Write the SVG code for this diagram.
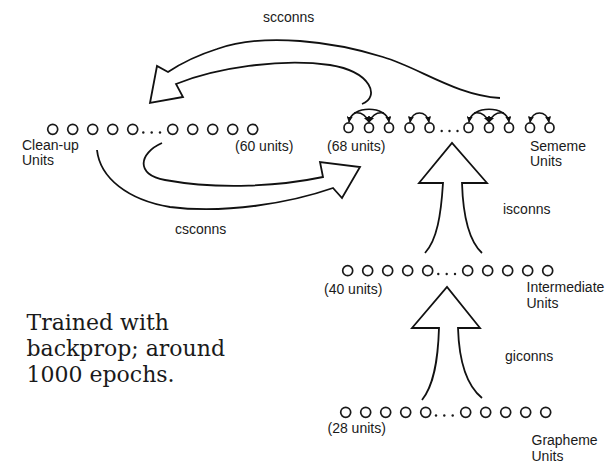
<svg xmlns="http://www.w3.org/2000/svg" width="610" height="462" viewBox="0 0 610 462">
  <defs>
    <marker id="tip" viewBox="0 0 10 10" refX="9" refY="5" markerWidth="6" markerHeight="6" markerUnits="userSpaceOnUse" orient="auto-start-reverse">
      <path d="M0,0 L10,5 L0,10 z" fill="#111"/>
    </marker>
  </defs>
  <style>
    .unit { fill: none; stroke: #1a1a1a; stroke-width: 1.7; }
    .dot { fill: #1a1a1a; }
    .lbl { font-family: "Liberation Sans", Arial, sans-serif; font-size: 14px; fill: #1a1a1a; }
    .note { font-family: "DejaVu Serif", serif; font-size: 22px; fill: #1a1a1a; }
    .big { fill: none; stroke: #111; stroke-width: 1.8; stroke-linejoin: miter; }
    .lat { fill: none; stroke: #111; stroke-width: 1.6; }
  </style>
  <rect width="610" height="462" fill="#fff"/>

  <!-- Clean-up layer -->
  <g id="cleanup">
    <g class="unit">
      <ellipse cx="52.7" cy="129.3" rx="5" ry="5"/>
      <ellipse cx="72.7" cy="129.3" rx="5" ry="5"/>
      <ellipse cx="92.7" cy="129.3" rx="5" ry="5"/>
      <ellipse cx="112.7" cy="129.3" rx="5" ry="5"/>
      <ellipse cx="132.7" cy="129.3" rx="5" ry="5"/>
      <ellipse cx="172.7" cy="129.3" rx="5" ry="5"/>
      <ellipse cx="192.7" cy="129.3" rx="5" ry="5"/>
      <ellipse cx="212.7" cy="129.3" rx="5" ry="5"/>
      <ellipse cx="232.7" cy="129.3" rx="5" ry="5"/>
      <ellipse cx="252.7" cy="129.3" rx="5" ry="5"/>
    </g>
    <g class="dot">
      <circle cx="143.3" cy="132.5" r="1.2"/>
      <circle cx="151.7" cy="132.5" r="1.2"/>
      <circle cx="160" cy="132.5" r="1.2"/>
    </g>
    <text class="lbl" x="22" y="150">Clean-up</text>
    <text class="lbl" x="22" y="165">Units</text>
    <text class="lbl" x="235" y="151">(60 units)</text>
  </g>

  <!-- Sememe layer -->
  <g id="sememe">
    <g class="unit">
      <ellipse cx="348.5" cy="127.7" rx="4.5" ry="4.8"/>
      <ellipse cx="369" cy="127.7" rx="4.5" ry="4.8"/>
      <ellipse cx="389" cy="127.7" rx="4.5" ry="4.8"/>
      <ellipse cx="409.5" cy="127.7" rx="4.5" ry="4.8"/>
      <ellipse cx="429.5" cy="127.7" rx="4.5" ry="4.8"/>
      <ellipse cx="468.5" cy="127.7" rx="4.5" ry="4.8"/>
      <ellipse cx="489" cy="127.7" rx="4.5" ry="4.8"/>
      <ellipse cx="509" cy="127.7" rx="4.5" ry="4.8"/>
      <ellipse cx="530" cy="127.7" rx="4.5" ry="4.8"/>
      <ellipse cx="549.5" cy="127.7" rx="4.5" ry="4.8"/>
    </g>
    <g class="dot">
      <circle cx="441.7" cy="131" r="1.2"/>
      <circle cx="449.5" cy="131" r="1.2"/>
      <circle cx="457.5" cy="131" r="1.2"/>
    </g>
    <!-- lateral sememe connections -->
    <g class="lat">
      <path d="M349,122 C351,105 387,105 389,122" marker-start="url(#tip)" marker-end="url(#tip)"/>
      <path d="M354,113 Q364,111 369,122" marker-end="url(#tip)"/>
      <path d="M384,113 Q374,111 369,122" marker-end="url(#tip)"/>
      <path d="M410,122 C412,110 427,110 429,122" marker-start="url(#tip)" marker-end="url(#tip)"/>
      <path d="M469,122 C471,105 507,105 509,122" marker-start="url(#tip)" marker-end="url(#tip)"/>
      <path d="M474,113 Q484,111 489,122" marker-end="url(#tip)"/>
      <path d="M504,113 Q494,111 489,122" marker-end="url(#tip)"/>
      <path d="M530,122 C532,110 547,110 549,122" marker-start="url(#tip)" marker-end="url(#tip)"/>
    </g>
    <text class="lbl" x="327" y="151">(68 units)</text>
    <text class="lbl" x="530" y="150.5">Sememe</text>
    <text class="lbl" x="530" y="166">Units</text>
  </g>

  <!-- Intermediate layer -->
  <g id="intermediate">
    <g class="unit">
      <ellipse cx="347.7" cy="270.7" rx="5" ry="5"/>
      <ellipse cx="367.7" cy="270.7" rx="5" ry="5"/>
      <ellipse cx="387.7" cy="270.7" rx="5" ry="5"/>
      <ellipse cx="407.7" cy="270.7" rx="5" ry="5"/>
      <ellipse cx="427.7" cy="270.7" rx="5" ry="5"/>
      <ellipse cx="467.7" cy="270.7" rx="5" ry="5"/>
      <ellipse cx="487.7" cy="270.7" rx="5" ry="5"/>
      <ellipse cx="507.7" cy="270.7" rx="5" ry="5"/>
      <ellipse cx="527.7" cy="270.7" rx="5" ry="5"/>
      <ellipse cx="547.7" cy="270.7" rx="5" ry="5"/>
    </g>
    <g class="dot">
      <circle cx="438.3" cy="274" r="1.2"/>
      <circle cx="446.7" cy="274" r="1.2"/>
      <circle cx="455" cy="274" r="1.2"/>
    </g>
    <text class="lbl" x="324" y="294">(40 units)</text>
    <text class="lbl" x="526.5" y="292">Intermediate</text>
    <text class="lbl" x="526.5" y="308">Units</text>
  </g>

  <!-- Grapheme layer -->
  <g id="grapheme">
    <g class="unit">
      <ellipse cx="345.7" cy="412.3" rx="5" ry="5"/>
      <ellipse cx="365.7" cy="412.3" rx="5" ry="5"/>
      <ellipse cx="385.7" cy="412.3" rx="5" ry="5"/>
      <ellipse cx="405.7" cy="412.3" rx="5" ry="5"/>
      <ellipse cx="425.7" cy="412.3" rx="5" ry="5"/>
      <ellipse cx="465.7" cy="412.3" rx="5" ry="5"/>
      <ellipse cx="485.7" cy="412.3" rx="5" ry="5"/>
      <ellipse cx="505.7" cy="412.3" rx="5" ry="5"/>
      <ellipse cx="525.7" cy="412.3" rx="5" ry="5"/>
      <ellipse cx="545.7" cy="412.3" rx="5" ry="5"/>
    </g>
    <g class="dot">
      <circle cx="436" cy="415.5" r="1.2"/>
      <circle cx="444.3" cy="415.5" r="1.2"/>
      <circle cx="452.7" cy="415.5" r="1.2"/>
    </g>
    <text class="lbl" x="327.5" y="433">(28 units)</text>
    <text class="lbl" x="531.5" y="445">Grapheme</text>
    <text class="lbl" x="531.5" y="460.5">Units</text>
  </g>

  <!-- Training note -->
  <g id="note">
    <text class="note" x="26.5" y="329.5">Trained with</text>
    <text class="note" x="26.5" y="355.5">backprop; around</text>
    <text class="note" x="26.5" y="381.5">1000 epochs.</text>
  </g>

  <!-- Connections between layers -->
  <g id="connectors">
    <!-- scconns: sememe to clean-up -->
    <path class="big" d="M500,98 C455,95 420,68 383,57 C335,42 265,32 217,49 C195,56 180,64 168,72 L157,66 L150,103 L183,97 L176,84 C215,68 280,58 330,65 C372,72 380,97 362,104"/>
    <!-- csconns: clean-up to sememe -->
    <path class="big" d="M162,143 C139,153 135,175 165,180 C220,190 280,186 323,177 L320,162 L360,167 L342,198 L333,188 C290,203 225,214 170,207 C128,200 100,178 97,150"/>
    <!-- isconns: intermediate to sememe -->
    <path class="big" d="M425,253 C437,240 441,215 443,183 L419,183 L452,143 L487,183 L462,183 C463,215 468,240 482,253"/>
    <!-- giconns: grapheme to intermediate -->
    <path class="big" d="M422,400 C434,385 438,360 439,328 L412,328 L447,287 L480,328 L458,328 C459,360 466,385 482,398"/>
    <text class="lbl" x="263" y="21.5">scconns</text>
    <text class="lbl" x="175" y="233.5">csconns</text>
    <text class="lbl" x="503" y="214">isconns</text>
    <text class="lbl" x="505" y="361">giconns</text>
  </g>
</svg>
